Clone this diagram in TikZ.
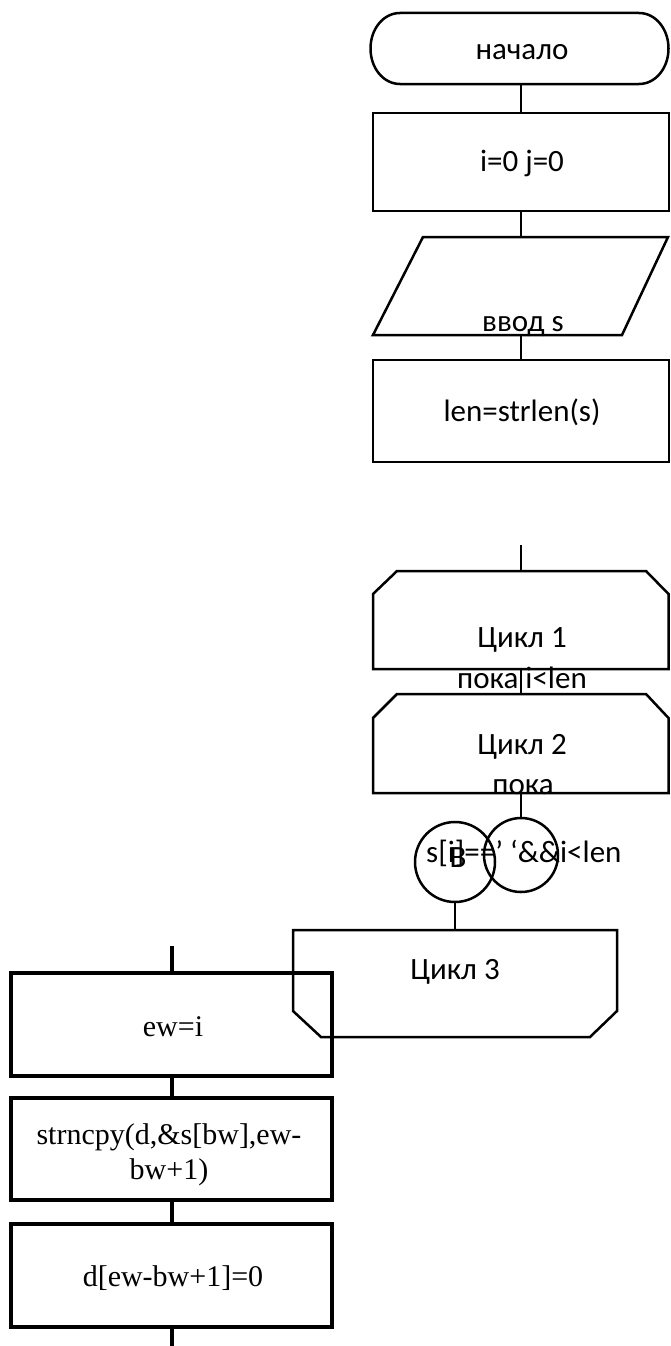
\documentclass[tikz,border=0pt]{standalone}
\usepackage{fontspec}
\setmainfont{Carlito}
\newfontfamily\timesf{Liberation Serif}
\begin{document}
\begin{tikzpicture}[x=1pt,y=-1pt,
  thinline/.style={line width=2.5pt},
  thickline/.style={line width=4pt},
  box/.style={draw, thinline, rectangle, inner sep=0pt},
  tbox/.style={draw, thickline, rectangle, inner sep=0pt},
  ghost/.style={rectangle, inner sep=0pt, draw=none},
  cf/.style={font=\fontsize{31}{37}\selectfont, inner sep=0pt},
  tf/.style={font=\timesf\fontsize{30}{35}\selectfont, inner sep=0pt, align=center},
]
\useasboundingbox (0,0) rectangle (670,1346);

% terminator
\node[ghost, minimum width=299pt, minimum height=71pt] (t) at (519.5,48.5) {};
\draw[thinline] (400,13) -- (639,13)
  .. controls (655.6,13) and (668.5,28.9) .. (668.5,48.5)
  .. controls (668.5,68.1) and (655.6,84) .. (639,84)
  -- (400,84)
  .. controls (383.4,84) and (370.5,68.1) .. (370.5,48.5)
  .. controls (370.5,28.9) and (383.4,13) .. (400,13) -- cycle;
\node[cf] (tt) at (522,52) {начало};

% process 1
\node[box, minimum width=296pt, minimum height=98pt] (r1) at (521,162) {};
\node[cf] (r1t) at (522,163) {i=0 j=0};

% input
\node[ghost, minimum width=296pt, minimum height=98pt] (p) at (521,286) {};
\draw[thinline] (423,237) -- (668,237) -- (622,335) -- (373,335) -- cycle;
\node[cf] (pt) at (523,327) {ввод s};

% process 2
\node[box, minimum width=296pt, minimum height=102pt] (r2) at (521,411) {};
\node[cf] (r2t) at (522,412) {len=strlen(s)};

\coordinate (c1) at (521,545);

% loop 1
\node[ghost, minimum width=296pt, minimum height=98pt] (h1) at (521,620) {};
\draw[thinline] (397,571) -- (646,571) -- (668.5,594) -- (668.5,669) -- (373,669) -- (373,594) -- cycle;
\node[cf] (h1a) at (522,640) {Цикл 1};
\node[cf] (h1b) at (522,678) {пока i<len};

% loop 2
\node[ghost, minimum width=296pt, minimum height=99pt] (h2) at (521,743.5) {};
\draw[thinline] (397,694) -- (646,694) -- (668.5,718) -- (668.5,793) -- (373,793) -- (373,718) -- cycle;
\node[cf] (h2a) at (522,747) {Цикл 2};
\node[cf] (h2b) at (523,787) {пока};

% connectors circles
\node[draw, thinline, circle, minimum size=80pt, inner sep=0pt] (lc) at (455,862) {};
\node[draw, thinline, circle, minimum size=74pt, inner sep=0pt] (rc) at (521,855) {};
\node[cf] (lct) at (458,858) {В};
\node[cf, anchor=west] (cond) at (426,853) {s[i]==’ ‘\&\&i<len};

% loop 3 end
\node[ghost, minimum width=324pt, minimum height=107pt] (h3) at (455,983.5) {};
\draw[thinline] (293,930) -- (617,930) -- (617,1011) -- (590,1037) -- (321,1037) -- (293,1011) -- cycle;
\node[cf] (h3a) at (455,972) {Цикл 3};

% bottom-left boxes
\coordinate (c2) at (171.5,946);
\node[tbox, minimum width=321pt, minimum height=103pt] (b1) at (171.5,1024.5) {};
\node[tf] (b1t) at (173,1027) {ew=i};
\node[tbox, minimum width=321pt, minimum height=102pt] (b2) at (171.5,1149) {};
\node[tf] (b2t) at (169,1154.5) {strncpy(d,\&s[bw],ew-\\bw+1)};
\node[tbox, minimum width=321pt, minimum height=103pt] (b3) at (171.5,1275.5) {};
\node[tf] (b3t) at (173,1278) {d[ew-bw+1]=0};
\coordinate (c3) at (171.5,1346);

% flow lines
\draw[thinline] (r1.north |- t.south) -- (r1.north);
\draw[thinline] (r1.south) -- (p.north);
\draw[thinline] (p.south) -- (r2.north);
\draw[thinline] (c1) -- (h1.north);
\draw[thinline] (h1.south) -- (h2.north);
\draw[thinline] (h2.south) -- (rc.north);
\draw[thinline] (lc.south) -- (h3.north);
\draw[thickline] (c2) -- (b1.north);
\draw[thickline] (b1.south) -- (b2.north);
\draw[thickline] (b2.south) -- (b3.north);
\draw[thickline] (b3.south) -- (c3);
\end{tikzpicture}
\end{document}
